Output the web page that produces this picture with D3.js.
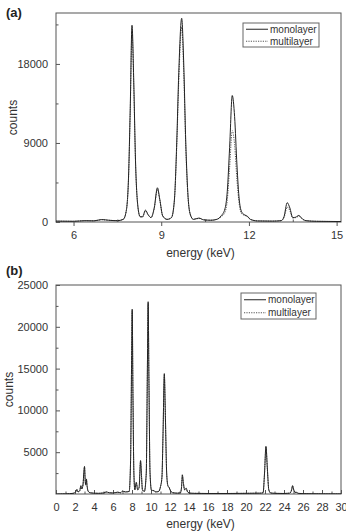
<!DOCTYPE html>
<html>
<head>
<meta charset="utf-8">
<script src="https://cdn.jsdelivr.net/npm/d3@7"></script>
<style>
  body { margin: 0; background: #fff; }
  svg { font-family: "Liberation Sans", Arial, sans-serif; display: block; }
  .tick text { fill: #333; }
</style>
</head>
<body>
<div id="chart"></div>
<script>
// panel (a) spectra
const energyA = [5.4, 6.0, 6.4, 6.7, 6.96, 7.2, 7.5, 7.7, 7.8, 7.88, 7.94, 8.0, 8.06, 8.12, 8.2, 8.28, 8.36, 8.46, 8.55, 8.65, 8.76, 8.87, 8.95, 9.05, 9.2, 9.35, 9.45, 9.53, 9.6, 9.7, 9.77, 9.84, 9.92, 10.0, 10.1, 10.29, 10.45, 10.7, 10.9, 11.05, 11.18, 11.26, 11.34, 11.43, 11.51, 11.59, 11.67, 11.76, 11.86, 11.95, 12.05, 12.3, 12.8, 13.1, 13.2, 13.31, 13.4, 13.5, 13.6, 13.71, 13.8, 13.95, 14.3, 15.15];
const monoA = [100, 80, 150, 130, 280, 200, 150, 300, 1200, 5000, 13000, 22400, 16000, 7000, 1800, 600, 600, 1350, 850, 500, 1600, 3900, 2600, 700, 300, 500, 2500, 9000, 17000, 23200, 18000, 9000, 2800, 800, 300, 450, 250, 200, 300, 700, 1500, 3500, 8500, 14400, 12000, 6500, 2500, 1100, 800, 650, 300, 120, 100, 150, 600, 2200, 1600, 500, 550, 750, 450, 150, 80, 50];
const multiA = [100, 80, 150, 130, 250, 200, 150, 300, 1200, 4800, 12500, 21800, 15500, 6800, 1800, 600, 550, 1250, 800, 500, 1500, 3700, 2500, 700, 300, 500, 2400, 8500, 16000, 22200, 17000, 8500, 2600, 800, 300, 400, 250, 200, 300, 600, 1100, 2500, 6200, 10400, 8800, 4800, 2000, 900, 750, 600, 300, 120, 100, 150, 500, 1700, 1300, 450, 500, 650, 400, 150, 80, 50];

// panel (b) spectra
const energyB = [0, 1, 1.8, 2.1, 2.2, 2.32, 2.5, 2.62, 2.72, 2.85, 2.93, 3.0, 3.08, 3.14, 3.2, 3.28, 3.4, 3.6, 4, 4.5, 5, 5.3, 5.6, 6, 6.5, 6.8, 7.0, 7.3, 7.7, 7.85, 7.95, 8.02, 8.1, 8.2, 8.3, 8.45, 8.6, 8.75, 8.9, 9.0, 9.1, 9.3, 9.5, 9.62, 9.7, 9.78, 9.9, 10.05, 10.3, 10.5, 10.8, 11.0, 11.15, 11.28, 11.4, 11.52, 11.65, 11.78, 11.9, 12.05, 12.3, 12.8, 13.1, 13.22, 13.3, 13.4, 13.55, 13.7, 13.85, 14.1, 14.5, 16, 18, 20, 21.5, 21.8, 21.95, 22.1, 22.25, 22.4, 22.6, 23, 24, 24.6, 24.8, 24.9, 25.0, 25.15, 25.3, 25.5, 26, 28, 30];
const monoB = [0, 20, 80, 300, 550, 250, 400, 1000, 600, 1200, 2600, 3300, 1500, 1100, 1800, 900, 300, 150, 100, 80, 120, 250, 150, 120, 220, 150, 350, 250, 300, 4000, 15000, 22100, 12000, 2500, 500, 1400, 500, 800, 4000, 2200, 500, 300, 2500, 15000, 23000, 14000, 2500, 450, 400, 250, 300, 900, 2000, 8000, 14400, 9000, 2500, 1000, 800, 400, 150, 100, 150, 900, 2300, 1400, 500, 700, 250, 100, 80, 60, 60, 80, 100, 150, 2500, 5700, 3000, 500, 120, 80, 60, 100, 500, 1000, 600, 200, 200, 80, 40, 20, 10];
const multiB = [0, 20, 80, 280, 500, 250, 380, 950, 600, 1150, 2500, 3200, 1450, 1050, 1700, 850, 300, 150, 100, 80, 120, 230, 150, 120, 200, 150, 330, 250, 300, 3900, 14800, 21900, 11800, 2400, 500, 1350, 500, 800, 3900, 2100, 500, 300, 2400, 14800, 22800, 13800, 2400, 450, 380, 250, 300, 850, 1900, 7800, 14200, 8800, 2400, 950, 780, 400, 150, 100, 150, 850, 2200, 1350, 480, 650, 250, 100, 80, 60, 60, 80, 100, 150, 2450, 5600, 2950, 500, 120, 80, 60, 100, 480, 950, 580, 200, 190, 80, 40, 20, 10];

const seriesNames = ["monolayer", "multilayer"];

const panels = [
  {
    tag: "(a)", tagY: 17,
    left: 56, right: 341, top: 13, bottom: 222,
    energy: energyA, mono: monoA, multi: multiA,
    xDomain: [5.4, 15.15], yDomain: [0, 23800],
    xMajor: [6, 9, 12, 15], xMinor: [7.5, 10.5, 13.5],
    yMajor: [0, 9000, 18000], yMinor: [4500, 13500, 22500],
    xTickOut: true,
    countsX: 13, xLabelY: 257,
    legend: {x: 243, y: 23, w: 76, h: 24}
  },
  {
    tag: "(b)", tagY: 275,
    left: 56, right: 341, top: 285, bottom: 494,
    energy: energyB, mono: monoB, multi: multiB,
    xDomain: [0, 30], yDomain: [0, 25000],
    xMajor: d3.range(0, 31, 2), xMinor: d3.range(1, 30, 2),
    yMajor: [5000, 10000, 15000, 20000, 25000], yMinor: [2500, 7500, 12500, 17500, 22500],
    xTickOut: false,
    countsX: 9, xLabelY: 528,
    legend: {x: 241, y: 293, w: 75, h: 26}
  }
];

const svg = d3.select("#chart").append("svg")
  .attr("width", 346)
  .attr("height", 532);

panels.forEach(p => {
  const x = d3.scaleLinear().domain(p.xDomain).range([p.left, p.right]);
  const y = d3.scaleLinear().domain(p.yDomain).range([p.bottom, p.top]);
  const g = svg.append("g");

  // frame
  g.append("rect")
    .attr("x", p.left).attr("y", p.top)
    .attr("width", p.right - p.left).attr("height", p.bottom - p.top)
    .attr("fill", "none").attr("stroke", "#555").attr("stroke-width", 1);

  // x axis
  const xAxis = g.append("g")
    .attr("transform", `translate(0,${p.bottom})`)
    .call(d3.axisBottom(x).tickValues(p.xMajor).tickFormat(d3.format("d"))
      .tickSize(p.xTickOut ? 4 : -4).tickPadding(p.xTickOut ? 5 : 9));
  xAxis.select(".domain").remove();
  xAxis.selectAll("line").attr("stroke", "#555");
  xAxis.selectAll("text").attr("font-size", 11);
  const xMin = g.append("g")
    .attr("transform", `translate(0,${p.bottom})`)
    .call(d3.axisBottom(x).tickValues(p.xMinor).tickFormat("").tickSize(-2.5));
  xMin.select(".domain").remove();
  xMin.selectAll("line").attr("stroke", "#555");

  // y axis
  const yAxis = g.append("g")
    .attr("transform", `translate(${p.left},0)`)
    .call(d3.axisLeft(y).tickValues(p.yMajor).tickFormat(d3.format("d"))
      .tickSize(-4).tickPadding(8));
  yAxis.select(".domain").remove();
  yAxis.selectAll("line").attr("stroke", "#555");
  yAxis.selectAll("text").attr("font-size", 11);
  const yMin = g.append("g")
    .attr("transform", `translate(${p.left},0)`)
    .call(d3.axisLeft(y).tickValues(p.yMinor).tickFormat("").tickSize(-2.5));
  yMin.select(".domain").remove();
  yMin.selectAll("line").attr("stroke", "#555");

  // labels
  g.append("text")
    .attr("x", 6).attr("y", p.tagY)
    .attr("font-size", 13).attr("font-weight", "bold").attr("fill", "#222")
    .text(p.tag);
  g.append("text")
    .attr("transform", `translate(${p.countsX},${(p.top + p.bottom) / 2}) rotate(-90)`)
    .attr("text-anchor", "middle").attr("dy", "0.35em")
    .attr("font-size", 12).attr("fill", "#333")
    .text("counts");
  g.append("text")
    .attr("x", (p.left + p.right) / 2 + 2).attr("y", p.xLabelY)
    .attr("text-anchor", "middle")
    .attr("font-size", 12).attr("fill", "#333")
    .text("energy (keV)");

  // spectra
  const clipId = "clip" + p.tag.replace(/\W/g, "");
  g.append("clipPath").attr("id", clipId)
    .append("rect")
    .attr("x", p.left).attr("y", p.top)
    .attr("width", p.right - p.left).attr("height", p.bottom - p.top);

  const line = vals => d3.line()
    .x((d, i) => x(p.energy[i]))
    .y(d => y(d))
    .curve(d3.curveMonotoneX)(vals);

  g.append("path")
    .attr("clip-path", `url(#${clipId})`)
    .attr("d", line(p.multi))
    .attr("fill", "none").attr("stroke", "#555")
    .attr("stroke-width", 1).attr("stroke-dasharray", "1.2,1.2");
  g.append("path")
    .attr("clip-path", `url(#${clipId})`)
    .attr("d", line(p.mono))
    .attr("fill", "none").attr("stroke", "#222")
    .attr("stroke-width", 1);

  // legend
  const L = p.legend;
  const lg = g.append("g");
  lg.append("rect")
    .attr("x", L.x).attr("y", L.y).attr("width", L.w).attr("height", L.h)
    .attr("fill", "#fff").attr("stroke", "#666").attr("stroke-width", 1);
  seriesNames.forEach((name, i) => {
    const yy = L.y + L.h * (i === 0 ? 0.26 : 0.76);
    lg.append("line")
      .attr("x1", L.x + 3).attr("x2", L.x + 25)
      .attr("y1", yy).attr("y2", yy)
      .attr("stroke", i === 0 ? "#222" : "#555")
      .attr("stroke-dasharray", i === 0 ? null : "1.2,1.2");
    lg.append("text")
      .attr("x", L.x + 27).attr("y", yy).attr("dy", "0.35em")
      .attr("font-size", 10).attr("fill", "#333")
      .text(name);
  });
});
</script>
</body>
</html>
